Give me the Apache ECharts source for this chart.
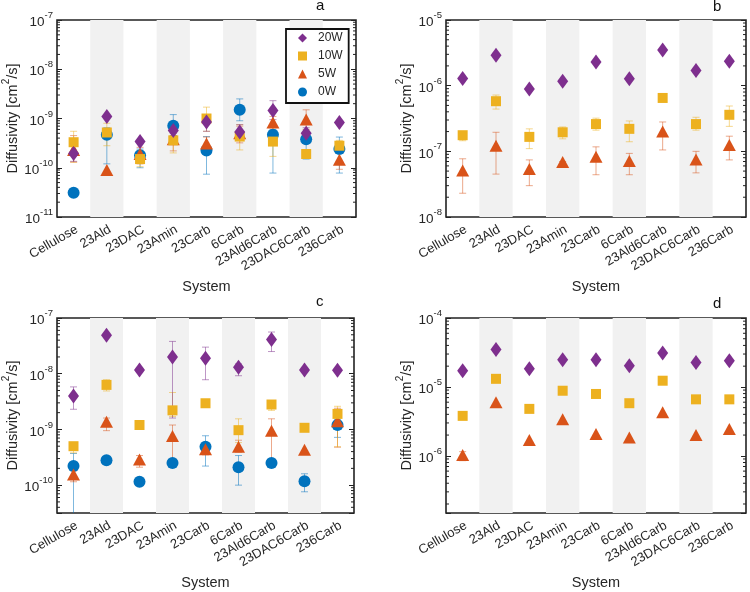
<!DOCTYPE html>
<html><head><meta charset="utf-8">
<script src="https://cdn.jsdelivr.net/npm/echarts@6/dist/echarts.min.js"></script>
<style>html,body{margin:0;padding:0;background:#fff}#c{width:750px;height:592px}</style>
</head><body><div id="c"></div><script>
const categories = ['Cellulose','23Ald','23DAC','23Amin','23Carb','6Carb','23Ald6Carb','23DAC6Carb','236Carb'];
const legendOrder = ['20W','10W','5W','0W'];
const drawOrder = ['0W','5W','10W','20W'];

// Panel a
const a0    = [3.1e-11, 4.7e-10, 1.8e-10, 7.1e-10, 2.25e-10, 1.5e-9, 4.7e-10, 3.8e-10, 2.4e-10];
const a0lo  = [null, 1.2e-10, 1.0e-10, 4.5e-10, 7.4e-11, 9e-10, 7.8e-11, 1.5e-10, 7.8e-11];
const a0hi  = [null, 6.5e-10, 2.4e-10, 1.2e-9, 4.3e-10, 2.5e-9, 6e-10, 5e-10, 4.2e-10];
const a5    = [2.3e-10, 9e-11, 1.9e-10, 3.8e-10, 3.1e-10, 5.0e-10, 8.3e-10, 9.5e-10, 1.45e-10];
const a5lo  = [1.3e-10, null, 1.2e-10, 2.2e-10, 2.2e-10, 3.2e-10, 5e-10, 6e-10, 9.3e-11];
const a5hi  = [4.5e-10, null, 2.6e-10, 5e-10, 4.2e-10, 7e-10, 1.1e-9, 1.5e-9, 2.2e-10];
const a10   = [3.3e-10, 5.2e-10, 1.5e-10, 3.6e-10, 1.0e-9, 4.3e-10, 3.4e-10, 1.9e-10, 2.8e-10];
const a10lo = [1.3e-10, 2.8e-10, 1.05e-10, 2.0e-10, 5.5e-10, 2.3e-10, 1.7e-10, null, 2.0e-10];
const a10hi = [5.5e-10, 8e-10, 2.2e-10, 5.5e-10, 1.7e-9, 7.5e-10, 6.5e-10, null, 3.6e-10];
const a20   = [1.95e-10, 1.1e-9, 3.4e-10, 5.7e-10, 8.5e-10, 5.3e-10, 1.45e-9, 5.0e-10, 8.3e-10];
const a20lo = [1.35e-10, null, null, 4.5e-10, 5.5e-10, 3.8e-10, 9.5e-10, 3.8e-10, null];
const a20hi = [2.8e-10, null, null, 7e-10, 1.2e-9, 7.5e-10, 2.3e-9, 6.5e-10, null];

// Panel b
const b5    = [5.1e-8, 1.22e-7, 5.4e-8, 6.9e-8, 8.3e-8, 7.1e-8, 2.0e-7, 7.5e-8, 1.25e-7];
const b5lo  = [2.3e-8, 4.5e-8, 3.0e-8, 5.8e-8, 4.4e-8, 4.4e-8, 1.05e-7, 4.7e-8, 7.4e-8];
const b5hi  = [7.7e-8, 1.95e-7, 7.4e-8, 7.0e-8, 1.17e-7, 9.3e-8, 2.8e-7, 1.0e-7, 1.7e-7];
const b10   = [1.76e-7, 5.8e-7, 1.66e-7, 1.95e-7, 2.6e-7, 2.2e-7, 6.5e-7, 2.6e-7, 3.6e-7];
const b10lo = [1.45e-7, 4.4e-7, 1.1e-7, 1.55e-7, 2.1e-7, 1.4e-7, null, 2.1e-7, 2.4e-7];
const b10hi = [2.0e-7, 7.2e-7, 2.2e-7, 2.35e-7, 3.2e-7, 2.9e-7, null, 3.3e-7, 4.9e-7];
const b20   = [1.29e-6, 2.9e-6, 8.9e-7, 1.17e-6, 2.3e-6, 1.28e-6, 3.5e-6, 1.7e-6, 2.36e-6];

// Panel c
const c0    = [2.2e-10, 2.8e-10, 1.15e-10, 2.5e-10, 4.9e-10, 2.1e-10, 2.5e-10, 1.17e-10, 1.2e-9];
const c0lo  = [1e-11, null, null, null, 2.2e-10, 1.0e-10, null, 7.6e-11, 7.2e-10];
const c0hi  = [3.7e-10, null, null, null, 7.7e-10, 3.4e-10, null, 1.6e-10, 1.5e-9];
const c5    = [1.55e-10, 1.38e-9, 2.9e-10, 7.6e-10, 4.4e-10, 4.9e-10, 9.5e-10, 4.3e-10, 1.4e-9];
const c5lo  = [1.15e-10, 9.5e-10, 2.1e-10, 2.5e-10, 3.5e-10, 3.9e-10, 2.8e-10, null, 4.8e-10];
const c5hi  = [1.8e-10, 1.6e-9, 3.4e-10, 1.2e-9, 5e-10, 6.4e-10, 1.55e-9, null, 2.4e-9];
const c10   = [5.0e-10, 6.3e-9, 1.2e-9, 2.2e-9, 2.95e-9, 9.7e-10, 2.8e-9, 1.07e-9, 1.9e-9];
const c10lo = [3.8e-10, 4.9e-9, null, 1.7e-9, null, 5.8e-10, 2.2e-9, null, 4.9e-10];
const c10hi = [5.5e-10, 7.8e-9, null, 4.6e-9, null, 1.55e-9, 3.2e-9, null, 2.6e-9];
const c20   = [4.0e-9, 4.9e-8, 1.17e-8, 2.0e-8, 1.9e-8, 1.3e-8, 4.1e-8, 1.17e-8, 1.15e-8];
const c20lo = [2.3e-9, null, null, 1.6e-9, 7.8e-9, 9.2e-9, 2.5e-8, null, null];
const c20hi = [5.8e-9, null, null, 3.8e-8, 3.0e-8, 1.5e-8, 5.6e-8, null, null];

// Panel d
const d5    = [1.03e-6, 6.0e-6, 1.7e-6, 3.4e-6, 2.07e-6, 1.85e-6, 4.3e-6, 2.0e-6, 2.45e-6];
const d5lo  = [8.5e-7, null, null, null, null, null, null, null, null];
const d5hi  = [1.15e-6, null, null, null, null, null, null, null, null];
const d10   = [3.8e-6, 1.31e-5, 4.8e-6, 8.8e-6, 7.9e-6, 5.8e-6, 1.23e-5, 6.6e-6, 6.6e-6];
const d20   = [1.72e-5, 3.5e-5, 1.84e-5, 2.48e-5, 2.48e-5, 2.03e-5, 3.1e-5, 2.27e-5, 2.4e-5];

const COLORS = {'20W':'#7E2F8E','10W':'#EDB120','5W':'#D95319','0W':'#0072BD'};
const SYMBOLS = {'20W':['diamond',[11,15]], '10W':['rect',[10,10]], '5W':['triangle',[13,12]], '0W':['circle',[12,12]]};
const TXT = '#262626';
const FONT = '"Liberation Sans", Arial, sans-serif';

const panels = [
  {label:'a', left:57, top:20, width:299, height:197, min:1e-11, max:1e-7, lab:[316,-2],
   data:{'0W':[a0,a0lo,a0hi],'5W':[a5,a5lo,a5hi],'10W':[a10,a10lo,a10hi],'20W':[a20,a20lo,a20hi]}},
  {label:'b', left:446, top:20, width:300, height:197, min:1e-8, max:1e-5, lab:[713,-1],
   data:{'5W':[b5,b5lo,b5hi],'10W':[b10,b10lo,b10hi],'20W':[b20,null,null]}},
  {label:'c', left:57, top:318, width:297, height:195, min:Math.pow(10,-10.5), max:1e-7, lab:[316,294],
   data:{'0W':[c0,c0lo,c0hi],'5W':[c5,c5lo,c5hi],'10W':[c10,c10lo,c10hi],'20W':[c20,c20lo,c20hi]}},
  {label:'d', left:446, top:318, width:300, height:195, min:1.48e-7, max:1e-4, lab:[713,296],
   data:{'5W':[d5,d5lo,d5hi],'10W':[d10,null,null],'20W':[d20,null,null]}}
];

function logLabel(v){
  const e = Math.log10(v); const r = Math.round(e);
  if (Math.abs(e - r) > 1e-6) return '';
  return '{b|10}{s|' + r + '}';
}
const labelRich = {
  b:{fontSize:13.5, color:TXT, fontFamily:FONT, padding:[5,0,0,0], verticalAlign:'bottom'},
  s:{fontSize:9.5, color:TXT, fontFamily:FONT, verticalAlign:'top'}
};

const grid = [], xAxis = [], yAxis = [], series = [], title = [];
panels.forEach((p, i) => {
  grid.push({left:p.left, top:p.top, width:p.width, height:p.height, show:true,
    borderColor:'#222', borderWidth:1.6, backgroundColor:'rgba(0,0,0,0)'});
  xAxis.push({gridIndex:i, type:'category', data:categories, boundaryGap:true,
    axisLine:{show:false}, axisTick:{show:false},
    axisLabel:{interval:0, rotate:30, fontSize:13, color:TXT, fontFamily:FONT, margin:6,
      align:'right', verticalAlign:'top'},
    splitLine:{show:false},
    splitArea:{show:true, areaStyle:{color:['rgba(255,255,255,0)','#f1f1f1']}},
    name:'System', nameLocation:'middle', nameGap:62,
    nameTextStyle:{fontSize:14.5, color:TXT, fontFamily:FONT}});
  yAxis.push({gridIndex:i, type:'log', logBase:10, min:p.min, max:p.max, position:'left',
    axisLine:{show:false}, axisTick:{show:true, inside:true, length:5, lineStyle:{color:'#222'}},
    splitLine:{show:false},
    axisLabel:{formatter:logLabel, rich:labelRich, margin:4, showMinLabel:true, showMaxLabel:true},
    name:'{n|Diffusivity [cm}{s|2}{n|/s]}', nameLocation:'middle', nameRotate:90,
    nameGap:(i % 2 === 0 ? 36 : 30),
    nameTextStyle:{rich:{n:{fontSize:14.5, color:TXT, fontFamily:FONT, padding:[4,0,0,0], verticalAlign:'bottom'},
                         s:{fontSize:10, color:TXT, fontFamily:FONT, verticalAlign:'top'}}}});
  yAxis.push({gridIndex:i, type:'log', logBase:10, min:p.min, max:p.max, position:'right',
    axisLine:{show:false}, axisTick:{show:true, inside:true, length:5, lineStyle:{color:'#222'}},
    axisLabel:{show:false}, splitLine:{show:false}});

  // minor ticks (axis decoration) for log axes on both sides
  const minor = [];
  for (let k = Math.floor(Math.log10(p.min)); k <= Math.ceil(Math.log10(p.max)); k++) {
    for (let m = 2; m <= 9; m++) { const v = m * Math.pow(10, k); if (v > p.min && v < p.max) minor.push([0, v]); }
  }
  series.push({type:'custom', name:'minor-'+i, xAxisIndex:i, yAxisIndex:2*i, silent:true, z:5,
    data:minor, encode:{x:0, y:1},
    renderItem:(params, api) => {
      const cs = params.coordSys; const y = api.coord([0, api.value(1)])[1];
      const st = {stroke:'#222', lineWidth:1};
      return {type:'group', children:[
        {type:'line', shape:{x1:cs.x, y1:y, x2:cs.x+3, y2:y}, style:st},
        {type:'line', shape:{x1:cs.x+cs.width-3, y1:y, x2:cs.x+cs.width, y2:y}, style:st}]};
    }});

  // error bars
  drawOrder.forEach(name => {
    const d = p.data[name]; if (!d || !d[1]) return;
    const items = [];
    d[1].forEach((lo, j) => { if (lo != null && d[2][j] != null) items.push([j, lo, d[2][j]]); });
    if (!items.length) return;
    const col = COLORS[name];
    series.push({type:'custom', name:name+'-err-'+i, xAxisIndex:i, yAxisIndex:2*i, silent:true, clip:true,
      data:items, encode:{x:0, y:[1,2]},
      renderItem:(params, api) => {
        const pl = api.coord([api.value(0), api.value(1)]);
        const ph = api.coord([api.value(0), api.value(2)]);
        const cx = pl[0], hw = 3.5;
        const st = {stroke:col, lineWidth:1, opacity:0.5};
        return {type:'group', children:[
          {type:'line', shape:{x1:cx, y1:pl[1], x2:cx, y2:ph[1]}, style:st},
          {type:'line', shape:{x1:cx-hw, y1:pl[1], x2:cx+hw, y2:pl[1]}, style:st},
          {type:'line', shape:{x1:cx-hw, y1:ph[1], x2:cx+hw, y2:ph[1]}, style:st}]};
      }});
  });
  // markers
  drawOrder.forEach(name => {
    const d = p.data[name]; if (!d) return;
    series.push({type:'scatter', name:name, xAxisIndex:i, yAxisIndex:2*i,
      symbol:SYMBOLS[name][0], symbolSize:SYMBOLS[name][1],
      itemStyle:{color:COLORS[name], opacity:1}, data:d[0], silent:true});
  });
  title.push({text:p.label, left:p.lab[0], top:p.lab[1], padding:0,
    textStyle:{fontSize:15, fontWeight:'normal', color:'#111', fontFamily:FONT}});
});

const chart = echarts.init(document.getElementById('c'), null, {renderer:'canvas'});
chart.setOption({
  animation:false, backgroundColor:'#fff', title, grid, xAxis, yAxis, series,
  legend:{data:legendOrder, orient:'vertical', left:286, top:29, selectedMode:false,
    padding:[3,6,5,12], itemGap:6, itemWidth:9, itemHeight:9,
    borderColor:'#111', borderWidth:1.8, backgroundColor:'#fff',
    textStyle:{fontSize:12, lineHeight:9, color:TXT, fontFamily:FONT, padding:[0,0,0,6]}}
});
</script></body></html>
